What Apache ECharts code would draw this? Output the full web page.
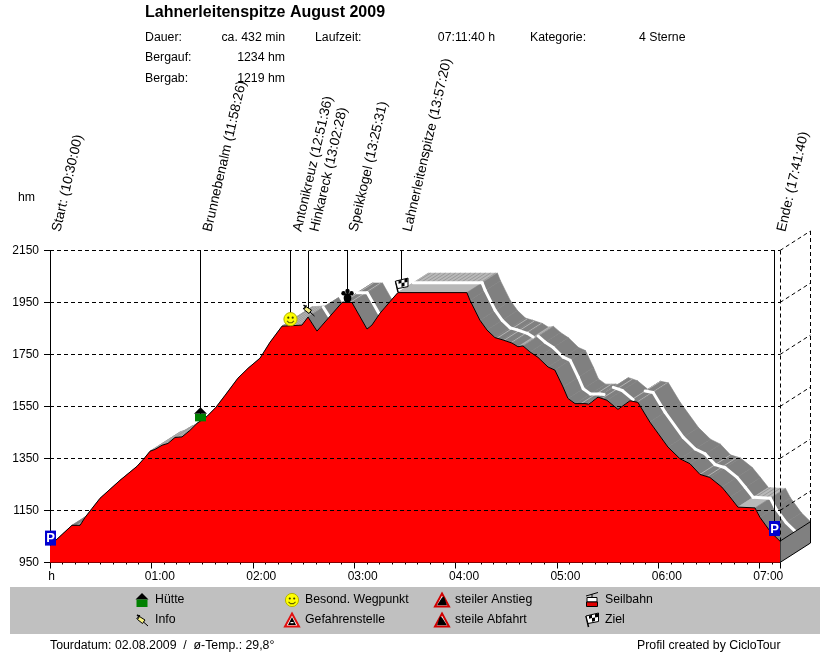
<!DOCTYPE html>
<html><head><meta charset="utf-8">
<style>html,body{margin:0;padding:0;background:#fff}#c{width:830px;height:652px}</style>
<script src="https://cdn.jsdelivr.net/npm/echarts@6/dist/echarts.min.js"></script>
</head><body><div id="c"></div>
<script>
const titleText = 'Lahnerleitenspitze August 2009';
const minutes = [0,13,17.8,20.7,24.9,29.6,41.4,51.5,56.2,59.2,62.1,66.3,69.8,74,78.1,82.8,87,92.9,98.2,103.6,111.2,117.2,124.3,130.2,137.3,143.8,149.1,152.7,158,172.8,178.7,187.6,190.5,195.3,203,205.9,246.7,248.5,254.4,258.6,263.3,267.5,273.4,276.9,279.9,284,288.8,294.7,298.8,303.6,306.5,310.7,316.6,318.9,324.3,329.6,336.1,343.2,347.9,355,365.7,372.8,378.7,384.6,390.5,397.6,402.4,407.1,417.2,420.1,426.6,432];
const elevation = [1015,1093,1093,1123,1158,1197,1266,1320,1354,1378,1385,1401,1408,1431,1433,1458,1485,1512,1547,1593,1659,1697,1736,1797,1859,1861,1863,1894,1840,1950,1950,1848,1863,1909,1967,1988,1988,1959,1882,1844,1815,1807,1794,1780,1783,1760,1739,1702,1690,1625,1581,1561,1561,1559,1586,1574,1539,1572,1566,1490,1394,1349,1330,1289,1277,1240,1202,1163,1160,1124,1066,1032];
const yTicks = [950,1150,1350,1550,1750,1950,2150];
const markerNames = ['Start: (10:30:00)','Brunnebenalm (11:58:26)','Antonikreuz (12:51:36)','Hinkareck (13:02:28)','Speikkogel (13:25:31)','Lahnerleitenspitze (13:57:20)','Ende: (17:41:40)'];
const markerMinutes = [0,89,142.3,152.7,175.9,207.9,428.5];
const markerElevation = [1015,1489,1861,1894,1950,1988,1052];
const markerIcons = ['P','house','smile','pin','paw','flag','P'];
const legendItems = [['house','Hütte'],['pin','Info'],['smile','Besond. Wegpunkt'],['warn','Gefahrenstelle'],['up','steiler Anstieg'],['down','steile Abfahrt'],['gondola','Seilbahn'],['flag','Ziel']];
const infoRows = [['Dauer:','ca. 432 min'],['Bergauf:','1234 hm'],['Bergab:','1219 hm']];

const FONT = '"Liberation Sans", Arial, sans-serif';
const f12 = '12.3px ' + FONT;
const DX = 30.5, DY = -19.5;
const BLACK = '#000';

function icon(kind, x, y) {
  const c = [];
  const P = (pts, fill, stroke, lw) => c.push({type:'polygon', shape:{points:pts}, style:{fill:fill, stroke:stroke||null, lineWidth:lw||1}});
  const L = (pts, col, lw) => c.push({type:'polyline', shape:{points:pts}, style:{fill:null, stroke:col||BLACK, lineWidth:lw||1}});
  const C = (cx,cy,r,fill,stroke) => c.push({type:'circle', shape:{cx:cx,cy:cy,r:r}, style:{fill:fill, stroke:stroke||null, lineWidth:1}});
  const R = (a,b,w,h,fill,stroke) => c.push({type:'rect', shape:{x:a,y:b,width:w,height:h}, style:{fill:fill, stroke:stroke||null}});
  if (kind==='P') {
    R(-5.5,-7.5,11,15,'#0000d0');
    c.push({type:'text', style:{text:'P', x:0, y:0.5, font:'bold 13px '+FONT, fill:'#fff', align:'center', verticalAlign:'middle'}});
  } else if (kind==='house') {
    P([[-6.5,-0.5],[0,-7],[6.5,-0.5]],BLACK);
    R(-5.5,-0.5,11,7.5,'#008000');
  } else if (kind==='smile') {
    C(0,0,6.6,'#ffff00','#b4b400');
    C(-2.2,-1.5,1.1,'#404000'); C(2.2,-1.5,1.1,'#404000');
    L([[-3.5,1.8],[-1.5,3.6],[1.5,3.6],[3.5,1.8]],'#606000',1.1);
  } else if (kind==='pin') {
    P([[-2.5,-3.5],[3,0],[0.5,3.5],[-4.5,-0.5]],'#f6f080',BLACK);
    L([[-5,-5],[-2.5,-3.5]],BLACK,1.5);
    L([[-5.5,-1],[-2,-5]],BLACK,1);
    L([[1.5,2],[6,6]],BLACK,1);
  } else if (kind==='paw') {
    c.push({type:'ellipse', shape:{cx:0,cy:1.5,rx:3.8,ry:5}, style:{fill:BLACK}});
    C(-4,-3.2,2.2,BLACK); C(0,-5.5,2.2,BLACK); C(4,-3.2,2.2,BLACK);
  } else if (kind==='flag') {
    L([[-3.5,7],[-6,-4]],BLACK,1.5);
    P([[-6,-4],[6.5,-7],[6.5,1.5],[-4,3.5]],'#fff',BLACK);
    P([[-3,-4.5],[0,-5.2],[0,-2],[-3,-1.3]],BLACK);
    P([[3,-6],[6,-6.6],[6,-3],[3,-2.6]],BLACK);
    P([[0,-2],[3,-2.6],[3,1],[0,1.8]],BLACK);
  } else if (kind==='warn') {
    P([[0,-6.5],[7,6.5],[-7,6.5]],'#fff','#e01010',2);
    P([[0,-3],[4,5],[-4,5]],BLACK);
    R(-1.5,2,3,1.2,'#fff');
  } else if (kind==='up') {
    P([[0,-6.5],[7,6.5],[-7,6.5]],'#fff','#d00000',2);
    P([[-5,5.2],[0,-2.5],[2,-3.5],[5,5.2]],BLACK);
  } else if (kind==='down') {
    P([[0,-6.5],[7,6.5],[-7,6.5]],'#fff','#d00000',2);
    P([[-5,5.2],[-2,-3.5],[0,-2.5],[5,5.2]],BLACK);
  } else if (kind==='gondola') {
    L([[-6,-4],[6,-7.5]],BLACK,1);
    L([[0,-6],[0,-2.5]],BLACK,1);
    R(-5,-2.5,10,4.5,'#fff',BLACK);
    R(-5.5,2,11,4.5,'#e00000',BLACK);
  }
  return {type:'group', x:x, y:y, silent:true, children:c};
}

function ribbonItem(params, api) {
  const i = params.dataIndex;
  if (i >= minutes.length - 1) return {type:'group', children:[]};
  const p = api.coord([minutes[i], elevation[i]]);
  const q = api.coord([minutes[i+1], elevation[i+1]]);
  const w = q[0]-p[0], h = q[1]-p[1];
  const slope = h / w;               /* positive: going down */
  const longFlat = Math.abs(slope) < 0.08 && w > 14;
  const rising = slope < -0.02;
  const steep = slope > 0.45;
  const base = longFlat ? '#b8b8b8' : rising ? '#9a9a9a' : '#808080';
  const kids = [{type:'polygon', shape:{points:[p,q,[q[0]+DX,q[1]+DY],[p[0]+DX,p[1]+DY]]}, style:{fill:base, stroke:base, lineWidth:0.6}}];
  if (!steep) {
    const pitch = longFlat ? 5 : rising ? 3 : 7;
    for (let x = Math.ceil(p[0]/pitch)*pitch; x < q[0]; x += pitch) {
      const t = (x-p[0])/w, a = [x, p[1]+h*t];
      const s = longFlat ? 0.55 : 0, e = 1;
      kids.push({type:'line', shape:{x1:a[0]+DX*s, y1:a[1]+DY*s, x2:a[0]+DX*e, y2:a[1]+DY*e},
        style:{stroke: longFlat ? '#989898' : '#b4b4b4', lineWidth:1}});
    }
  }
  return {type:'group', silent:true, children:kids};
}
function stripeItem(params, api) {
  const i = params.dataIndex;
  if (i >= minutes.length - 1) return {type:'group', children:[]};
  const p = api.coord([minutes[i], elevation[i]]);
  const q = api.coord([minutes[i+1], elevation[i+1]]);
  if (q[1] - p[1] < -0.3) return {type:'group', children:[]};
  const e = 0.5;
  return {type:'line', silent:true, shape:{x1:p[0]+DX*e, y1:p[1]+DY*e, x2:q[0]+DX*e, y2:q[1]+DY*e},
    style:{stroke:'#fff', lineWidth:3, lineCap:'round'}};
}
function wallItem(params, api) {
  const n = minutes.length-1;
  const a = api.coord([minutes[n], elevation[n]]);
  const b = api.coord([minutes[n], yTicks[0]]);
  return {type:'group', silent:true, children:[
    {type:'polygon', shape:{points:[a,[a[0]+DX,a[1]+DY],[b[0]+DX,b[1]+DY],b]}, style:{fill:'#808080', stroke:BLACK, lineWidth:1}}
  ]};
}
function gridItem(params, api) {
  const v = yTicks[params.dataIndex];
  const a = api.coord([0, v]), b = api.coord([minutes[minutes.length-1], v]);
  const y = Math.floor(a[1]) + 0.5, d = {stroke:BLACK, lineWidth:1, lineDash:[4,3]};
  const kids = [];
  if (params.dataIndex > 0) {
    kids.push({type:'line', shape:{x1:a[0], y1:y, x2:b[0], y2:y}, style:d});
    kids.push({type:'line', shape:{x1:b[0], y1:y, x2:b[0]+DX, y2:y+DY}, style:d});
  }
  if (params.dataIndex === yTicks.length-1) {
    const y0 = api.coord([0, yTicks[0]])[1];
    kids.push({type:'line', shape:{x1:Math.floor(b[0])+0.5, y1:y, x2:Math.floor(b[0])+0.5, y2:y0-21}, style:d});
    kids.push({type:'line', shape:{x1:Math.floor(b[0]+DX)+0.5, y1:y+DY, x2:Math.floor(b[0]+DX)+0.5, y2:y0+DY}, style:d});
  }
  return {type:'group', silent:true, children:kids};
}
const iconOffset = {P:-7.5, house:-8, smile:-6.5, pin:-7, paw:-6, flag:-7.5};
function markerItem(params, api) {
  const i = params.dataIndex;
  const top = api.coord([markerMinutes[i], yTicks[yTicks.length-1]]);
  const p = api.coord([markerMinutes[i], markerElevation[i]]);
  const kind = markerIcons[i], off = iconOffset[kind];
  const x = Math.floor(p[0]) + 0.5;
  const kids = [];
  if (i > 0) kids.push({type:'line', shape:{x1:x, y1:top[1], x2:x, y2:p[1]+off}, style:{stroke:BLACK, lineWidth:1}});
  kids.push(icon(kind, x, p[1]+off));
  return {type:'group', silent:true, children:kids};
}

const graphics = [];
graphics.push({type:'rect', z:-1, silent:true, shape:{x:10, y:587, width:810, height:47}, style:{fill:'#c0c0c0'}});
const T = (text,x,y,align,font) => graphics.push({type:'text', silent:true, x:x, y:y, style:{text:text, font:font||f12, fill:BLACK, align:align||'left', verticalAlign:'middle'}});
infoRows.forEach((r,i)=>{ const y = 37.5 + i*20.5; T(r[0],145,y); T(r[1],285,y,'right'); });
T('Laufzeit:',315,37.5); T('07:11:40 h',495,37.5,'right'); T('Kategorie:',530,37.5); T('4 Sterne',639,37.5);
T('hm',18,198);
T('Tourdatum: 02.08.2009  /  ø-Temp.: 29,8°',50,646);
T('Profil created by CicloTour',637,646);
legendItems.forEach((it,i)=>{
  const col = Math.floor(i/2), row = i%2;
  const x = 142 + col*150, y = 600 + row*20;
  graphics.push(icon(it[0], x, y));
  T(it[1], x+13, y);
});
const labelAnchorX = [63.5,214.5,304.5,321.5,360.5,414.5,788.5];
markerNames.forEach((n,i)=>{
  graphics.push({type:'text', silent:true, x:labelAnchorX[i], y:233, rotation:77*Math.PI/180,
    style:{text:n, font:'13.7px '+FONT, fill:BLACK, align:'left', verticalAlign:'bottom'}});
});

const chart = echarts.init(document.getElementById('c'), null, {renderer:'canvas'});
const pts = minutes.map((m,i)=>[m, elevation[i]]);
chart.setOption({
  animation:false,
  backgroundColor:'#fff',
  title:{text:titleText, left:145, top:5, padding:0, textStyle:{fontFamily:FONT, fontSize:16, fontWeight:'bold', color:BLACK}},
  grid:{left:50, right:50, top:250.5, bottom:89.5, containLabel:false},
  xAxis:{type:'value', min:0, max:432, interval:60,
    axisLine:{show:true, onZero:false, lineStyle:{color:BLACK}},
    axisTick:{show:true, length:6, lineStyle:{color:BLACK}},
    minorTick:{show:true, splitNumber:8, length:2, lineStyle:{color:BLACK}},
    splitLine:{show:false},
    axisLabel:{showMaxLabel:false, margin:8, hideOverlap:false,
      formatter:v=> v===0 ? '{h|h}' : '{t|0'+(v/60)+':00}',
      rich:{h:{fontFamily:FONT,fontSize:12,color:BLACK,padding:[0,0,0,3]}, t:{fontFamily:FONT,fontSize:12,color:BLACK,padding:[0,0,0,17]}}}},
  yAxis:{type:'value', min:950, max:2150,
    axisLine:{show:true, onZero:false, lineStyle:{color:BLACK}},
    axisTick:{show:true, length:6, customValues:yTicks, lineStyle:{color:BLACK}},
    splitLine:{show:false},
    axisLabel:{margin:11, customValues:yTicks, formatter:v=>String(v), fontFamily:FONT, fontSize:12, color:BLACK}},
  graphic:{elements:graphics},
  series:[
    {type:'custom', name:'ribbon', z:1, clip:false, coordinateSystem:'cartesian2d', data:pts, renderItem:ribbonItem, silent:true},
    {type:'custom', name:'stripe', z:2, clip:false, coordinateSystem:'cartesian2d', data:pts, renderItem:stripeItem, silent:true},
    {type:'custom', name:'wall', z:2, clip:false, coordinateSystem:'cartesian2d', data:[pts[0]], renderItem:wallItem, silent:true},
    {type:'line', name:'Höhe', z:3, data:pts, showSymbol:false, smooth:false, clip:false, silent:true,
      lineStyle:{color:BLACK, width:1}, areaStyle:{origin:'start', color:'#ff0000', opacity:1}},
    {type:'custom', name:'grid', z:4, clip:false, coordinateSystem:'cartesian2d', data:yTicks.map(v=>[0,v]), renderItem:gridItem, silent:true},
    {type:'custom', name:'marker', z:5, clip:false, coordinateSystem:'cartesian2d', data:markerMinutes.map((m,i)=>[m,markerElevation[i]]), renderItem:markerItem, silent:true}
  ]
});
</script></body></html>
